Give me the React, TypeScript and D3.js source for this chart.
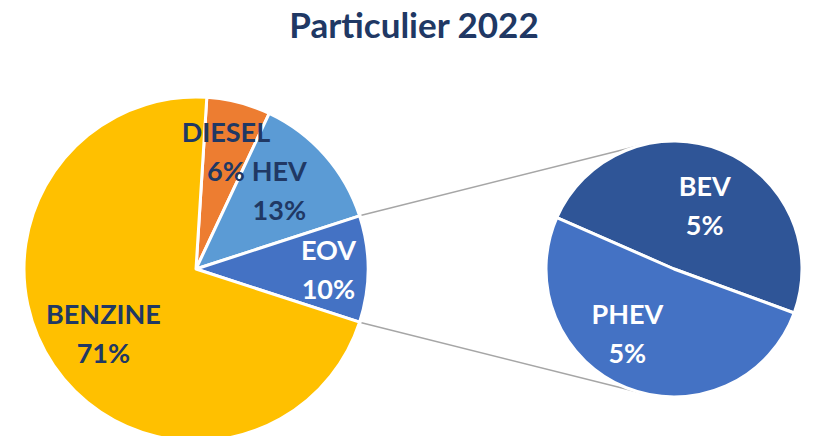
import React from "react";
import * as d3 from "d3";

// main pie (share of 2022 private registrations)
const mainLabels = ["DIESEL", "HEV", "EOV", "BENZINE"];
const mainValues = [6, 13, 10, 71];
const mainColors = ["#ED7D31", "#5B9BD5", "#4472C4", "#FFC000"];
const mainTextColors = ["#203864", "#203864", "#FFFFFF", "#203864"];

// split of EOV into secondary pie
const subLabels = ["BEV", "PHEV"];
const subValues = [4.9, 5.1];
const subColors = ["#2F5597", "#4472C4"];

const title = "Particulier 2022";

type Slice = { label: string; value: number; color: string; text: string };

const W = 813;
const H = 436;
const navy = "#203864";
const font = "Lato, 'Open Sans', sans-serif";

const mainC = { x: 196, y: 269, r: 172 };
const subC = { x: 674, y: 269, r: 128 };

// small label nudges (Excel best-fit placement)
const nudge: Record<string, [number, number]> = {
  DIESEL: [0, -1],
  HEV: [-7, 1],
  EOV: [12, 1],
  BENZINE: [7, -3],
  BEV: [3, 6],
  PHEV: [-19, -4],
};

function tangentPoint(px: number, py: number, upper: boolean) {
  const dx = px - subC.x;
  const dy = py - subC.y;
  const d = Math.hypot(dx, dy);
  const a = Math.atan2(dy, dx);
  const alpha = Math.acos(subC.r / d);
  const t = upper ? a + alpha : a - alpha;
  return [subC.x + subC.r * Math.cos(t), subC.y + subC.r * Math.sin(t)];
}

function Label({ x, y, name, pct, fill }: { x: number; y: number; name: string; pct: string; fill: string }) {
  return (
    <text x={x} textAnchor="middle" fontFamily={font} fontWeight={700} fontSize={27} fill={fill}>
      <tspan x={x} y={y - 9.75}>{name}</tspan>
      <tspan x={x} y={y + 29.25}>{pct}</tspan>
    </text>
  );
}

export default function App() {
  const mainData: Slice[] = mainLabels.map((l, i) => ({
    label: l,
    value: mainValues[i],
    color: mainColors[i],
    text: mainTextColors[i],
  }));
  const subData: Slice[] = subLabels.map((l, i) => ({
    label: l,
    value: subValues[i],
    color: subColors[i],
    text: "#FFFFFF",
  }));

  const total = d3.sum(mainValues);
  const eovIdx = mainLabels.indexOf("EOV");
  const before = d3.sum(mainValues.slice(0, eovIdx));
  const start = Math.PI / 2 - ((before + mainValues[eovIdx] / 2) / total) * 2 * Math.PI;

  const mainPie = d3
    .pie<Slice>()
    .sort(null)
    .value((d) => d.value)
    .startAngle(start)
    .endAngle(start + 2 * Math.PI)(mainData);

  const subStart = (-66.3 * Math.PI) / 180;
  const subPie = d3
    .pie<Slice>()
    .sort(null)
    .value((d) => d.value)
    .startAngle(subStart)
    .endAngle(subStart + 2 * Math.PI)(subData);

  const mainArc = d3.arc<d3.PieArcDatum<Slice>>().innerRadius(0).outerRadius(mainC.r);
  const mainLabelArc = d3
    .arc<d3.PieArcDatum<Slice>>()
    .innerRadius(mainC.r * 0.7)
    .outerRadius(mainC.r * 0.7);
  const subArc = d3.arc<d3.PieArcDatum<Slice>>().innerRadius(0).outerRadius(subC.r);
  const subLabelArc = d3
    .arc<d3.PieArcDatum<Slice>>()
    .innerRadius(subC.r * 0.58)
    .outerRadius(subC.r * 0.58);

  // connector lines from EOV edges, tangent to the secondary pie
  const eov = mainPie[eovIdx];
  const edge = (ang: number) => [
    mainC.x + (mainC.r + 2) * Math.sin(ang),
    mainC.y - (mainC.r + 2) * Math.cos(ang),
  ];
  const p1 = edge(eov.startAngle);
  const p2 = edge(eov.endAngle);
  const t1 = tangentPoint(p1[0], p1[1], true);
  const t2 = tangentPoint(p2[0], p2[1], false);

  return (
    <svg
      width={W}
      height={H}
      style={{ position: "absolute", left: 0, top: 0, display: "block", background: "#fff" }}
    >
      <text
        x={414}
        y={38}
        textAnchor="middle"
        fontFamily={font}
        fontWeight={700}
        fontSize={35}
        fill={navy}
      >
        {title}
      </text>

      <line x1={p1[0]} y1={p1[1]} x2={t1[0]} y2={t1[1]} stroke="#A6A6A6" strokeWidth={1.5} />
      <line x1={p2[0]} y1={p2[1]} x2={t2[0]} y2={t2[1]} stroke="#A6A6A6" strokeWidth={1.5} />

      <g transform={`translate(${mainC.x},${mainC.y})`}>
        {mainPie.map((d) => (
          <path key={d.data.label} d={mainArc(d) || ""} fill={d.data.color} stroke="#fff" strokeWidth={3} strokeLinejoin="round" />
        ))}
        {mainPie.map((d) => {
          const [cx, cy] = mainLabelArc.centroid(d);
          const [nx, ny] = nudge[d.data.label];
          return (
            <Label
              key={d.data.label}
              x={cx + nx}
              y={cy + ny}
              name={d.data.label}
              pct={`${Math.round(d.data.value)}%`}
              fill={d.data.text}
            />
          );
        })}
      </g>

      <g transform={`translate(${subC.x},${subC.y})`}>
        {subPie.map((d) => (
          <path key={d.data.label} d={subArc(d) || ""} fill={d.data.color} stroke="#fff" strokeWidth={3} strokeLinejoin="round" />
        ))}
        {subPie.map((d) => {
          const [cx, cy] = subLabelArc.centroid(d);
          const [nx, ny] = nudge[d.data.label];
          return (
            <Label
              key={d.data.label}
              x={cx + nx}
              y={cy + ny}
              name={d.data.label}
              pct={`${Math.round(d.data.value)}%`}
              fill={d.data.text}
            />
          );
        })}
      </g>
    </svg>
  );
}
